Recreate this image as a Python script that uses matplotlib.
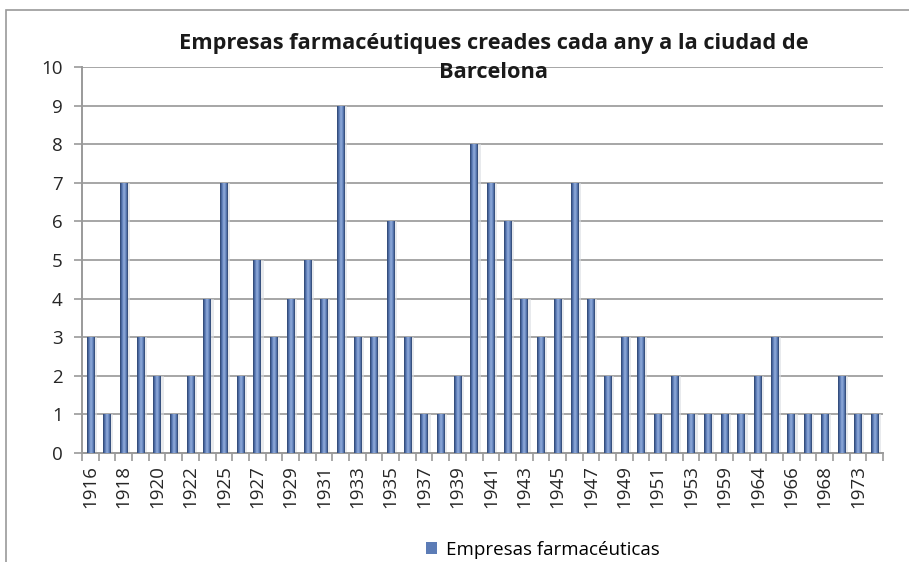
import numpy as np
import matplotlib
matplotlib.use('Agg')
import matplotlib.pyplot as plt
from matplotlib.colors import LinearSegmentedColormap
from matplotlib.patches import Rectangle

plt.rcParams['font.family'] = ['Open Sans', 'DejaVu Sans']

# datos
years = [1916, 1917, 1918, 1919, 1920, 1921, 1922, 1924, 1925, 1926,
         1927, 1928, 1929, 1930, 1931, 1932, 1933, 1934, 1935, 1936,
         1937, 1938, 1939, 1940, 1941, 1942, 1943, 1944, 1945, 1946,
         1947, 1948, 1949, 1950, 1951, 1952, 1953, 1955, 1959, 1960,
         1964, 1965, 1966, 1967, 1968, 1970, 1973, 1974]
empresas = [3, 1, 7, 3, 2, 1, 2, 4, 7, 2,
            5, 3, 4, 5, 4, 9, 3, 3, 6, 3,
            1, 1, 2, 8, 7, 6, 4, 3, 4, 7,
            4, 2, 3, 3, 1, 2, 1, 1, 1, 1,
            2, 3, 1, 1, 1, 2, 1, 1]
titulo = 'Empresas farmacéutiques creades cada any a la ciudad de\nBarcelona'
serie = 'Empresas farmacéuticas'

fig = plt.figure(figsize=(9.09, 5.62), dpi=100)
# marco del gráfico (solo se ven arriba e izquierda)
fig.patches.append(Rectangle((6 / 909, -0.1), 1.2, (562 - 10) / 562 + 0.1,
                             transform=fig.transFigure, fill=False,
                             edgecolor='#9a9a9a', lw=1.2))

ax = fig.add_axes([82 / 909, (562 - 453) / 562, 801 / 909, 386 / 562])
x = np.arange(len(years))

grad = LinearSegmentedColormap.from_list(
    'cil', ['#2c426c', '#5677b3', '#93addb', '#6485c0', '#2c426c'])
g = np.linspace(0, 1, 64).reshape(1, -1)

w = 0.45
bars = ax.bar(x, empresas, width=w, color='#5c7cb6', edgecolor='none', zorder=3)
for b in bars:
    x0, y0 = b.get_x(), b.get_y()
    im = ax.imshow(g, cmap=grad, aspect='auto', zorder=4,
                   extent=[x0, x0 + b.get_width(), y0, y0 + b.get_height()])
    im.set_clip_path(b)
    # sombra lateral suave
    ax.bar(x0 + b.get_width() + 0.08, b.get_height(), width=0.16, align='center',
           color='#d9dce2', alpha=0.6, zorder=2, edgecolor='none')

ax.set_xlim(-0.5, len(years) - 0.5)
ax.set_ylim(0, 10)
ax.set_yticks(range(0, 11))
ax.yaxis.grid(True, color='#a6a6a6', lw=1.4, zorder=1)
ax.set_axisbelow(True)

for s in ['top', 'right']:
    ax.spines[s].set_visible(False)
for s in ['left', 'bottom']:
    ax.spines[s].set_color('#9a9a9a')
    ax.spines[s].set_linewidth(1.4)

# etiquetas cada dos años
ax.set_xticks(x[::2])
ax.set_xticklabels([str(y) for y in years[::2]], rotation=90, fontsize=13.5,
                   color='#262626')
ax.tick_params(axis='x', length=0, pad=9)
ax.set_xticks(np.arange(len(years) + 1) - 0.5, minor=True)
ax.tick_params(axis='x', which='minor', length=6, color='#9a9a9a', width=1.2)
ax.tick_params(axis='y', length=6, color='#9a9a9a', width=1.2, labelsize=13.5,
               labelcolor='#262626', pad=8)

fig.text(494 / 909, 1 - 58 / 562, titulo, ha='center', va='center',
         fontsize=15.7, fontweight='bold', color='#1a1a1a', linespacing=1.5)

leg = fig.legend([bars], [serie], loc='center', bbox_to_anchor=(543 / 909, 12 / 562),
                 frameon=False, fontsize=13.5, handlelength=0.6, handleheight=0.6,
                 handletextpad=0.5)

fig.savefig('out.png', dpi=100)
